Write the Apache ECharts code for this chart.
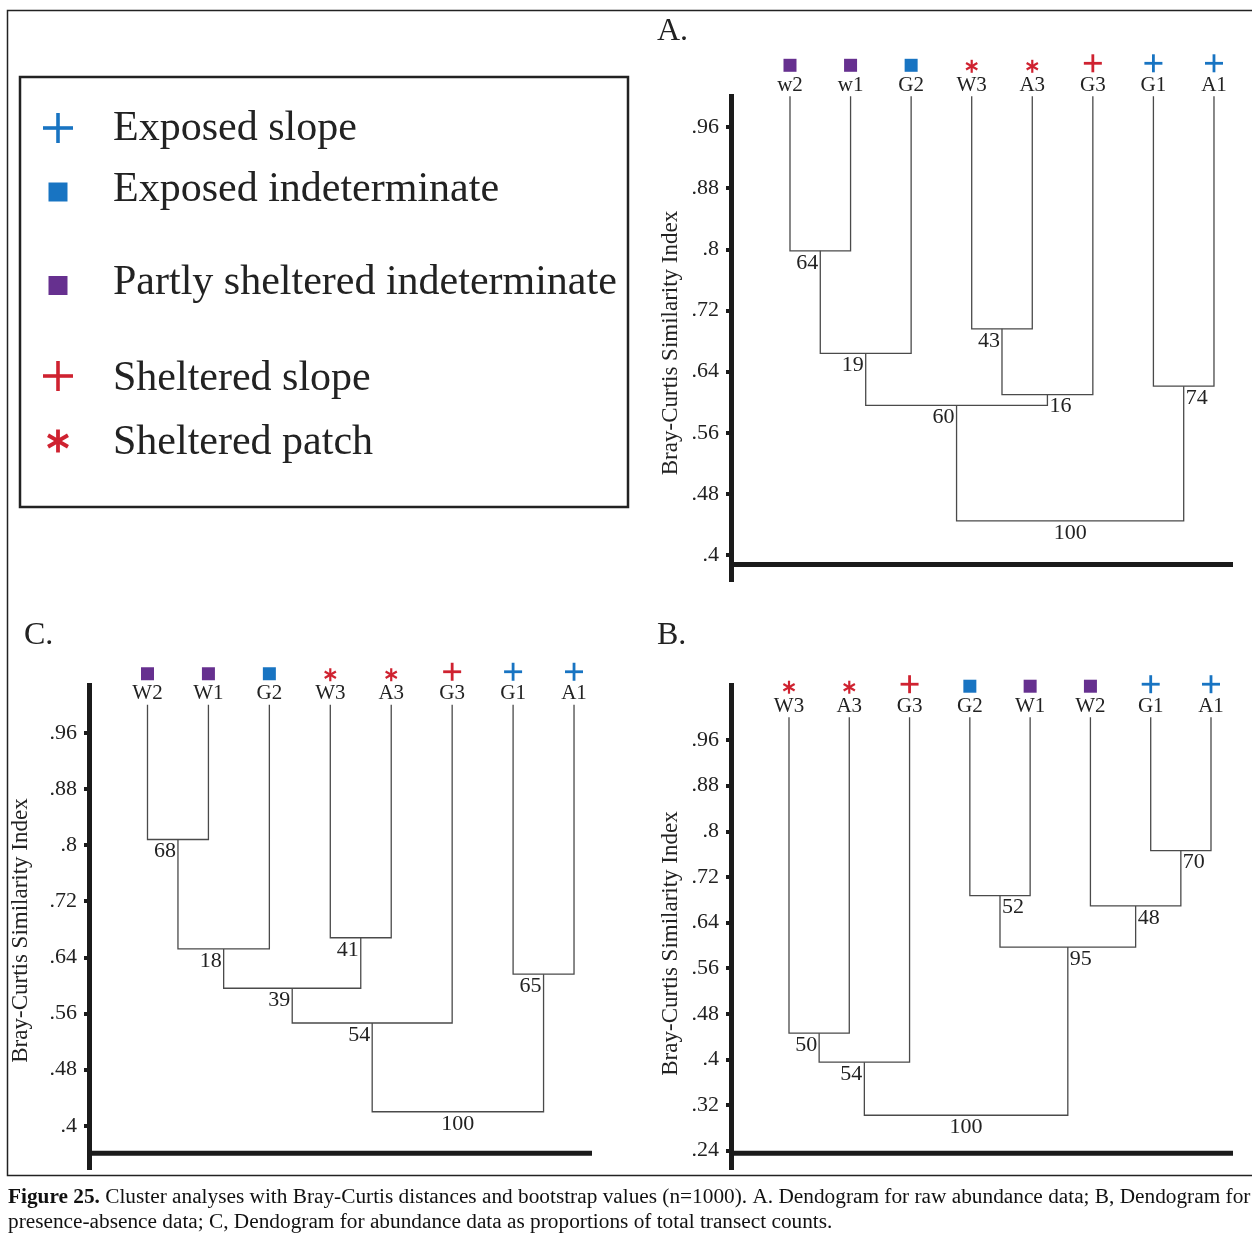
<!DOCTYPE html>
<html>
<head>
<meta charset="utf-8">
<script src="https://cdn.jsdelivr.net/npm/echarts@6/dist/echarts.min.js"></script>
<style>
  html, body { margin: 0; padding: 0; background: #fff; }
  #chart { width: 1252px; height: 1234px; }
</style>
</head>
<body>
<div id="chart"></div>
<script>
// ---------------------------------------------------------------
// Data
// ---------------------------------------------------------------

// Transects and the habitat type of each
const siteNames = ['W1', 'W2', 'G2', 'W3', 'A3', 'G3', 'G1', 'A1'];
const siteTypes = ['psi', 'psi', 'ei', 'sp', 'sp', 'ss', 'es', 'es'];

// Habitat types (legend order)
const typeKeys = ['es', 'ei', 'psi', 'ss', 'sp'];
const typeLabels = ['Exposed slope', 'Exposed indeterminate', 'Partly sheltered indeterminate',
                    'Sheltered slope', 'Sheltered patch'];

// A leaf has full similarity with itself
const selfSimilarity = 1.0;

// A. raw abundance data
// joins: pairs of node ids; ids 0-7 are leaves, 8+ are earlier joins
const leavesA  = ['w2', 'w1', 'G2', 'W3', 'A3', 'G3', 'G1', 'A1'];
const joinsA   = [[0, 1], [8, 2], [3, 4], [10, 5], [9, 11], [6, 7], [12, 13]];
const heightsA = [0.798, 0.664, 0.696, 0.610, 0.596, 0.621, 0.445];
const bootA    = [64, 19, 43, 16, 60, 74, 100];
const ticksA   = ['.4', '.48', '.56', '.64', '.72', '.8', '.88', '.96'];

// B. presence-absence data
const leavesB  = ['W3', 'A3', 'G3', 'G2', 'W1', 'W2', 'G1', 'A1'];
const joinsB   = [[6, 7], [3, 4], [5, 8], [9, 10], [0, 1], [12, 2], [13, 11]];
const heightsB = [0.766, 0.687, 0.669, 0.597, 0.446, 0.395, 0.302];
const bootB    = [70, 52, 48, 95, 50, 54, 100];
const ticksB   = ['.24', '.32', '.4', '.48', '.56', '.64', '.72', '.8', '.88', '.96'];

// C. abundance as proportions of total transect counts
const leavesC  = ['W2', 'W1', 'G2', 'W3', 'A3', 'G3', 'G1', 'A1'];
const joinsC   = [[0, 1], [3, 4], [8, 2], [6, 7], [10, 9], [12, 5], [13, 11]];
const heightsC = [0.808, 0.668, 0.652, 0.616, 0.596, 0.5465, 0.420];
const bootC    = [68, 41, 18, 65, 39, 54, 100];
const ticksC   = ['.4', '.48', '.56', '.64', '.72', '.8', '.88', '.96'];

// ---------------------------------------------------------------
// Styling and layout
// ---------------------------------------------------------------
const FONT = 'Liberation Serif';
const INK = '#1b1b1b';
const BRANCH = '#4a4a4a';
const BLUE = '#1874C2';
const PURPLE = '#66308F';
const RED = '#CF2230';
const typeStyle = {
  es:  { shape: 'plus',   color: BLUE },
  ei:  { shape: 'square', color: BLUE },
  psi: { shape: 'square', color: PURPLE },
  ss:  { shape: 'plus',   color: RED },
  sp:  { shape: 'star',   color: RED }
};

// bootstrap label side for each join: -1 left of stem, 1 right, 0 centred
const sideA = [-1, -1, -1, 1, -1, 1, 0];
const sideB = [1, 1, 1, 1, -1, -1, 0];
const sideC = [-1, -1, -1, -1, -1, -1, 0];

const panels = [
  { letter: 'A.', letterPos: [657, 32], leaves: leavesA, joins: joinsA, heights: heightsA, boot: bootA,
    ticks: ticksA, side: sideA,
    grid: { left: 731, top: 94, width: 502, height: 488 }, x: [-0.974, 7.314], y: [0.365, 1.003],
    base: 0.388, nameGap: 49, namePad: [0, 10, 0, 0] },
  { letter: 'B.', letterPos: [657, 636], leaves: leavesB, joins: joinsB, heights: heightsB, boot: bootB,
    ticks: ticksB, side: sideB,
    grid: { left: 731, top: 683, width: 502, height: 487 }, x: [-0.962, 7.365], y: [0.206, 1.06],
    base: 0.2354, nameGap: 49, namePad: [0, 34, 0, 0] },
  { letter: 'C.', letterPos: [24, 636], leaves: leavesC, joins: joinsC, heights: heightsC, boot: bootC,
    ticks: ticksC, side: sideC,
    grid: { left: 89, top: 683, width: 503, height: 487 }, x: [-0.96, 7.295], y: [0.337, 1.031],
    base: 0.361, nameGap: 57, namePad: [0, 8, 0, 0] }
];

// Marker graphic for a habitat type centred on (cx, cy)
function marker(type, cx, cy, size, stroke) {
  const st = typeStyle[type];
  if (st.shape === 'square') {
    return [{ type: 'rect', shape: { x: cx - size / 2, y: cy - size / 2, width: size, height: size },
              style: { fill: st.color } }];
  }
  if (st.shape === 'plus') {
    const h = size / 2;
    return [
      { type: 'line', shape: { x1: cx - h, y1: cy, x2: cx + h, y2: cy }, style: { stroke: st.color, lineWidth: stroke } },
      { type: 'line', shape: { x1: cx, y1: cy - h, x2: cx, y2: cy + h }, style: { stroke: st.color, lineWidth: stroke } }
    ];
  }
  // six-armed asterisk
  const r = size / 2;
  return [90, 30, 150].map(function (deg) {
    const a = deg * Math.PI / 180, dx = Math.cos(a) * r, dy = Math.sin(a) * r;
    return { type: 'line', shape: { x1: cx - dx, y1: cy - dy, x2: cx + dx, y2: cy + dy },
             style: { stroke: st.color, lineWidth: stroke } };
  });
}

// marker size and stroke for leaf labels and for the legend
function leafMarkerSpec(t) {
  const s = typeStyle[t].shape;
  if (s === 'square') return { size: 13, stroke: 0, dy: -31 };
  if (s === 'plus') return { size: 18, stroke: 2.8, dy: -33 };
  return { size: 13, stroke: 2.2, dy: -30 };
}
function legendMarkerSpec(t) {
  const s = typeStyle[t].shape;
  if (s === 'square') return { size: 19, stroke: 0 };
  if (s === 'plus') return { size: 30, stroke: 3.6 };
  return { size: 23, stroke: 3.8 };
}

function typeOf(name) {
  return siteTypes[siteNames.indexOf(name.toUpperCase())];
}

// Convert the join table into bracket items: [xLeft, yLeft, xRight, yRight, height, boot, side]
function brackets(p) {
  const pos = [], top = [];
  p.leaves.forEach(function (_, i) { pos.push(i); top.push(selfSimilarity); });
  return p.joins.map(function (j, k) {
    const a = j[0], b = j[1];
    const item = [pos[a], top[a], pos[b], top[b], p.heights[k], p.boot[k], p.side[k]];
    pos.push((pos[a] + pos[b]) / 2);
    top.push(p.heights[k]);
    return item;
  });
}

const grids = [], xAxes = [], yAxes = [], series = [];

panels.forEach(function (p, gi) {
  grids.push(Object.assign({}, p.grid));
  xAxes.push({ gridIndex: gi, type: 'value', min: p.x[0], max: p.x[1], show: false });
  const tickVals = p.ticks.map(Number);
  yAxes.push({
    gridIndex: gi, type: 'value', min: p.y[0], max: p.y[1], position: 'left',
    axisLine: { show: true, onZero: false, lineStyle: { color: INK, width: 5, cap: 'butt' } },
    axisTick: { show: true, length: 5, customValues: tickVals, lineStyle: { color: INK, width: 4 } },
    axisLabel: {
      customValues: tickVals, margin: 12, color: '#222', fontFamily: FONT, fontSize: 22,
      formatter: function (v) {
        const i = tickVals.findIndex(function (t) { return Math.abs(t - v) < 1e-6; });
        return i >= 0 ? p.ticks[i] : '';
      }
    },
    splitLine: { show: false },
    name: 'Bray-Curtis Similarity Index', nameLocation: 'middle', nameRotate: 90, nameGap: p.nameGap,
    nameTextStyle: { fontFamily: FONT, fontSize: 23, color: '#222', padding: p.namePad }
  });

  // dendrogram branches and bootstrap values
  series.push({
    type: 'custom', xAxisIndex: gi, yAxisIndex: gi, silent: true, animation: false, clip: false,
    data: brackets(p),
    renderItem: function (params, api) {
      const xl = api.value(0), yl = api.value(1), xr = api.value(2), yr = api.value(3), h = api.value(4);
      const p1 = api.coord([xl, yl]), p2 = api.coord([xl, h]), p3 = api.coord([xr, h]), p4 = api.coord([xr, yr]);
      const side = api.value(6);
      const stem = (p2[0] + p3[0]) / 2;
      let tx = stem, align = 'center';
      if (side < 0) { tx = stem - 2; align = 'right'; }
      else if (side > 0) { tx = stem + 2; align = 'left'; }
      return {
        type: 'group',
        children: [
          { type: 'polyline', shape: { points: [p1, p2, p3, p4] },
            style: { stroke: BRANCH, lineWidth: 1.3, fill: null } },
          { type: 'text', x: tx, y: p2[1] + 1,
            style: { text: String(api.value(5)), fontFamily: FONT, fontSize: 22, fill: '#222',
                     align: align, verticalAlign: 'top' } }
        ]
      };
    }
  });

  // leaf names and habitat markers
  series.push({
    type: 'custom', xAxisIndex: gi, yAxisIndex: gi, silent: true, animation: false, clip: false,
    data: p.leaves.map(function (name, i) { return [i, selfSimilarity]; }),
    renderItem: function (params, api) {
      const pt = api.coord([api.value(0), api.value(1)]);
      const name = p.leaves[params.dataIndex];
      const t = typeOf(name);
      const m = leafMarkerSpec(t);
      return {
        type: 'group',
        children: [
          { type: 'text', x: pt[0], y: pt[1] - 11,
            style: { text: name, fontFamily: FONT, fontSize: 21, fill: '#222', align: 'center', verticalAlign: 'middle' } }
        ].concat(marker(t, pt[0], pt[1] + m.dy, m.size, m.stroke))
      };
    }
  });

  // horizontal base axis
  series.push({
    type: 'custom', xAxisIndex: gi, yAxisIndex: gi, silent: true, animation: false, clip: false,
    data: [[p.base]],
    renderItem: function (params, api) {
      const cs = params.coordSys;
      const y = api.coord([0, api.value(0)])[1];
      return { type: 'line', shape: { x1: cs.x, y1: y, x2: cs.x + cs.width, y2: y },
               style: { stroke: INK, lineWidth: 5 } };
    }
  });
});

// Legend, panel letters, frame and caption
const legendTextRows = [129, 190, 283, 379, 443];
const legendMarkRows = [128, 192, 285.5, 376, 441];
const graphics = [
  { type: 'rect', shape: { x: 7.5, y: 10.5, width: 1300, height: 1165 }, style: { fill: null, stroke: '#222', lineWidth: 1.5 } },
  { type: 'rect', shape: { x: 20, y: 77, width: 608, height: 430 }, style: { fill: '#fff', stroke: '#222', lineWidth: 2.5 } }
];
typeKeys.forEach(function (k, i) {
  const m = legendMarkerSpec(k);
  marker(k, 58, legendMarkRows[i], m.size, m.stroke).forEach(function (g) { graphics.push(g); });
  graphics.push({ type: 'text', x: 113, y: legendTextRows[i],
    style: { text: typeLabels[i], fontFamily: FONT, fontSize: 42, fill: '#222', verticalAlign: 'middle' } });
});
panels.forEach(function (p) {
  graphics.push({ type: 'text', x: p.letterPos[0], y: p.letterPos[1],
    style: { text: p.letter, fontFamily: FONT, fontSize: 32, fill: '#222', verticalAlign: 'middle' } });
});
graphics.push({ type: 'text', x: 8, y: 1197,
  style: { text: '{b|Figure 25.} Cluster analyses with Bray-Curtis distances and bootstrap values (n=1000). A. Dendogram for raw abundance data; B, Dendogram for',
           fontFamily: FONT, fontSize: 21.3, fill: '#111', verticalAlign: 'middle',
           rich: { b: { fontWeight: 'bold', fontFamily: FONT, fontSize: 21.3, fill: '#111' } } } });
graphics.push({ type: 'text', x: 8, y: 1222,
  style: { text: 'presence-absence data; C, Dendogram for abundance data as proportions of total transect counts.',
           fontFamily: FONT, fontSize: 21.3, fill: '#111', verticalAlign: 'middle' } });

const chart = echarts.init(document.getElementById('chart'), null, { renderer: 'canvas' });
chart.setOption({
  animation: false,
  backgroundColor: '#fff',
  grid: grids,
  xAxis: xAxes,
  yAxis: yAxes,
  series: series,
  graphic: { elements: graphics }
});
</script>
</body>
</html>
